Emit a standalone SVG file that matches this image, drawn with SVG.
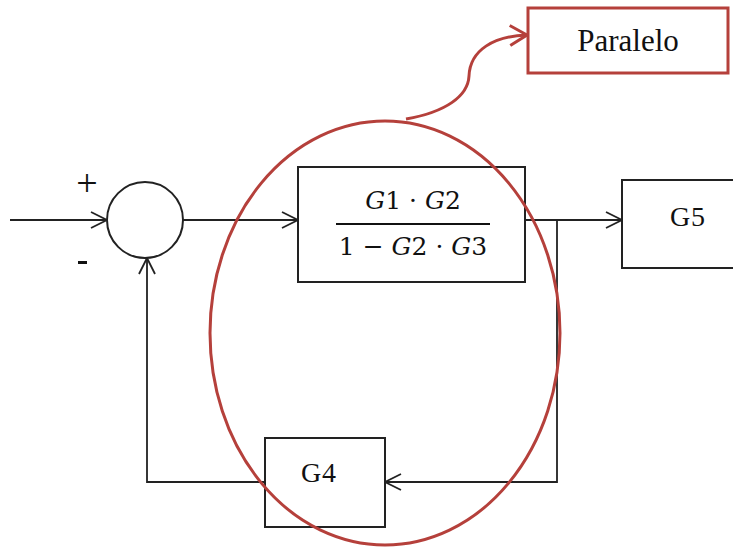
<svg xmlns="http://www.w3.org/2000/svg" width="733" height="547" viewBox="0 0 733 547">
  <defs>
    <marker id="arr" markerWidth="20" markerHeight="20" refX="17" refY="9" orient="auto" markerUnits="userSpaceOnUse">
      <path d="M1,1 L17,9 L1,17" fill="none" stroke="#222" stroke-width="1.8"/>
    </marker>
    <marker id="arrRed" markerWidth="22" markerHeight="24" refX="19" refY="11" orient="auto" markerUnits="userSpaceOnUse">
      <path d="M2,1 L19,11 L2,21" fill="none" stroke="#b5403b" stroke-width="3"/>
    </marker>
  </defs>
  <style>
    .blk { fill: #fff; stroke: #222; stroke-width: 2; }
    .wire { fill: none; stroke: #222; stroke-width: 1.8; }
    .lbl { font-family: "Liberation Serif", serif; fill: #111; }
    .math { font-family: "DejaVu Serif", "Liberation Serif", serif; font-size: 25px; fill: #111; }
    .it { font-style: italic; }
    .red { fill: none; stroke: #b5403b; stroke-width: 3; }
  </style>

  <g id="connectors">
    <line class="wire" x1="10" y1="220" x2="107" y2="220" marker-end="url(#arr)"/>
    <line class="wire" x1="183" y1="220" x2="298" y2="220" marker-end="url(#arr)"/>
    <line class="wire" x1="525" y1="220" x2="622" y2="220" marker-end="url(#arr)"/>
    <polyline class="wire" points="557,220 557,482 385,482" marker-end="url(#arr)"/>
    <polyline class="wire" points="265,482 147,482 147,258" marker-end="url(#arr)"/>
  </g>

  <g id="sum">
    <circle class="blk" cx="145" cy="220" r="38"/>
    <text class="lbl" x="87" y="196" font-size="38" text-anchor="middle">+</text>
    <rect x="78" y="261" width="9" height="3" fill="#111"/>
  </g>

  <g id="forward">
    <rect class="blk" x="298" y="167" width="227" height="115"/>
    <text class="math" x="413" y="209" text-anchor="middle"><tspan class="it">G</tspan>1 · <tspan class="it">G</tspan>2</text>
    <line x1="336" y1="224" x2="490" y2="224" stroke="#111" stroke-width="2"/>
    <text class="math" x="413" y="255" text-anchor="middle">1 − <tspan class="it">G</tspan>2 · <tspan class="it">G</tspan>3</text>
  </g>

  <g id="g5">
    <rect class="blk" x="622" y="180" width="120" height="88"/>
    <text class="lbl" x="688" y="226" font-size="28" letter-spacing="1" text-anchor="middle">G5</text>
  </g>

  <g id="g4">
    <rect class="blk" x="265" y="438" width="120" height="89"/>
    <text class="lbl" x="319" y="482" font-size="28" letter-spacing="1" text-anchor="middle">G4</text>
  </g>

  <g id="group-marker">
    <ellipse class="red" cx="385" cy="333" rx="175" ry="212"/>
  </g>

  <g id="paralelo">
    <path class="red" d="M406,119 C446,112 468,96 469,76 C470,50 494,36 527,35" marker-end="url(#arrRed)"/>
    <rect x="528" y="8" width="200" height="65" fill="#fff" stroke="#b5403b" stroke-width="3"/>
    <text class="lbl" x="628" y="51" font-size="31" text-anchor="middle">Paralelo</text>
  </g>
</svg>
